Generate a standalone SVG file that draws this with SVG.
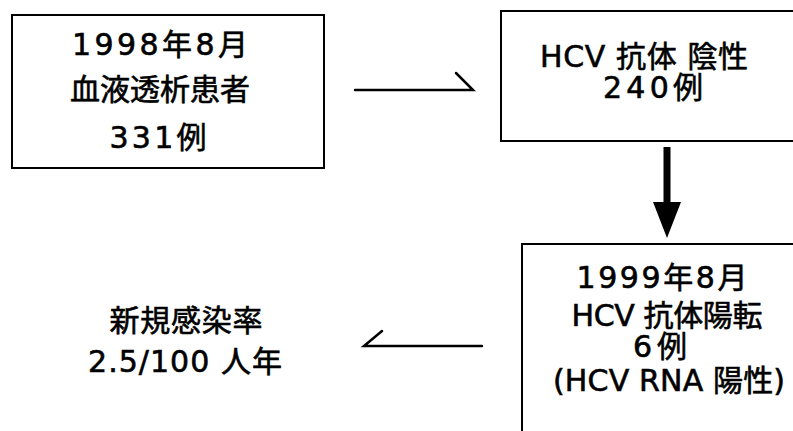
<svg xmlns="http://www.w3.org/2000/svg" width="793" height="431" viewBox="0 0 793 431">
<style>
.box{fill:#fff;stroke:#000;stroke-width:2}
.t{font-family:"DejaVu Sans","Noto Sans CJK JP",sans-serif;font-size:30px;fill:#000;stroke:#000;stroke-width:0.6;text-anchor:middle}
.ln{fill:none;stroke:#000;stroke-width:2.5;stroke-linecap:round}
</style>
<rect width="793" height="431" fill="#fff"/>
<g id="n1">
<rect class="box" x="12" y="15" width="312" height="153"/>
<text class="t" x="160" y="55" textLength="176" lengthAdjust="spacing">1998年8月</text>
<text class="t" x="160" y="100" textLength="180" lengthAdjust="spacing">血液透析患者</text>
<text class="t" x="158" y="148" textLength="97" lengthAdjust="spacing">331例</text>
</g>
<g id="n2">
<rect class="box" x="501" y="11" width="302" height="130"/>
<text class="t" x="644" y="67" textLength="208" lengthAdjust="spacing">HCV 抗体 陰性</text>
<text class="t" x="653" y="98" textLength="100" lengthAdjust="spacing">240例</text>
</g>
<g id="n3">
<rect class="box" x="522" y="244" width="282" height="200"/>
<text class="t" x="662" y="288" textLength="171" lengthAdjust="spacing">1999年8月</text>
<text class="t" x="667" y="326" textLength="191" lengthAdjust="spacing">HCV 抗体陽転</text>
<text class="t" x="660" y="357" textLength="54" lengthAdjust="spacing">6例</text>
<text class="t" x="669" y="391" textLength="232" lengthAdjust="spacing">(HCV RNA 陽性)</text>
</g>
<g id="n4">
<text class="t" x="186" y="331" textLength="153" lengthAdjust="spacing">新規感染率</text>
<text class="t" x="185" y="372" textLength="194" lengthAdjust="spacing">2.5/100 人年</text>
</g>
<g id="connectors">
<path class="ln" d="M355 90 H473 L456 73"/>
<path d="M663.5 147 h7 v55 h10.5 l-14 36 l-14 -36 h10.5 z" fill="#000"/>
<path class="ln" d="M482 346 H364 L382 331"/>
</g>
</svg>
